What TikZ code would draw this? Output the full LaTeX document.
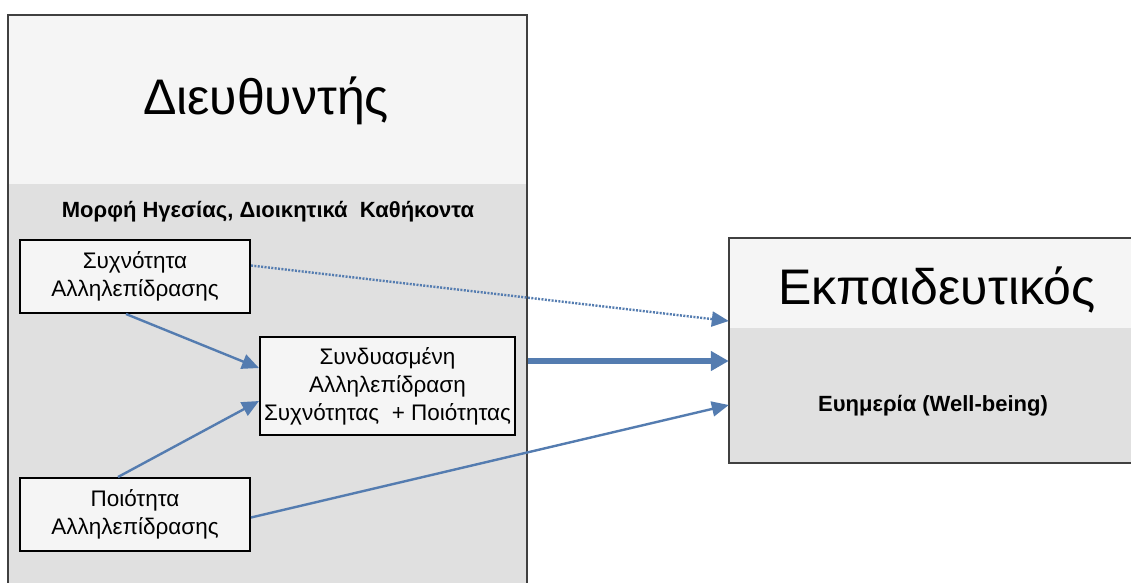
\documentclass[tikz,border=0pt]{standalone}
\usepackage{fontspec}
\setmainfont{Liberation Sans}
\usepackage{xcolor}
\usepackage{tikz}
\usetikzlibrary{positioning, arrows.meta}

\definecolor{headgray}{RGB}{245,245,245}
\definecolor{bodygray}{RGB}{224,224,224}
\definecolor{linkblue}{RGB}{84,124,176}

\tikzset{
  varbox/.style={draw=black, line width=2pt, fill=headgray, align=center,
    minimum width=230, minimum height=73, inner sep=2pt,
    font=\fontsize{22.5}{28}\selectfont},
  link/.style={draw=linkblue, line width=2.4pt,
    -{Triangle[length=17pt,width=15pt]}},
  biglink/.style={draw=linkblue, line width=6pt,
    -{Triangle[length=18pt,width=19pt]}},
  title/.style={font=\fontsize{50}{52}\selectfont},
  subtitle/.style={font=\fontsize{22}{24}\selectfont\bfseries}
}

\begin{document}
\begin{tikzpicture}[x=1pt, y=-1pt]
\useasboundingbox (0,0) rectangle (1131,582);

% principal
\fill[headgray] (8,15) rectangle (527,184);
\fill[bodygray] (8,184) rectangle (527,600);
\draw[black!75, line width=1.2pt] (8,600) -- (8,15) -- (527,15) -- (527,600);
\node[title] (dirtitle) at (266,101) {Διευθυντής};
\node[subtitle] (dirsub) at (268,212) {Μορφή Ηγεσίας, Διοικητικά\ \ Καθήκοντα};
\coordinate (dirright) at (528,361);

% teacher
\fill[headgray] (729,238) rectangle (1140,328);
\fill[bodygray] (729,328) rectangle (1140,463);
\draw[black!75, line width=1.2pt] (1140,238) -- (729,238) -- (729,463) -- (1140,463);
\node[minimum width=411, minimum height=225] (teach) at (934.5,350.5) {};
\node[title] (teachtitle) at (937,290) {Εκπαιδευτικός};
\node[subtitle] (teachsub) at (933,406) {Ευημερία (Well-being)};

% interaction boxes
\node[varbox] (freq) at (135,276.5) {Συχνότητα\\Αλληλεπίδρασης};
\node[varbox] (qual) at (135,514.5) {Ποιότητα\\Αλληλεπίδρασης};
\node[varbox, minimum width=255, minimum height=98] (comb) at (387.5,386)
  {Συνδυασμένη\\Αλληλεπίδραση\\Συχνότητας\ \ + Ποιότητας};

% links
\draw[link] ([xshift=-9]freq.south) -- ([yshift=18]comb.west);
\draw[link] ([xshift=-17]qual.north) -- ([yshift=-15]comb.west);
\draw[link, dash pattern=on 2pt off 1.4pt] ([yshift=11]freq.east) -- ([yshift=29.5]teach.west);
\draw[biglink] (dirright) -- (dirright -| teach.west);
\draw[link] ([yshift=-3]qual.east) -- ([yshift=-54.5]teach.west);
\end{tikzpicture}
\end{document}
